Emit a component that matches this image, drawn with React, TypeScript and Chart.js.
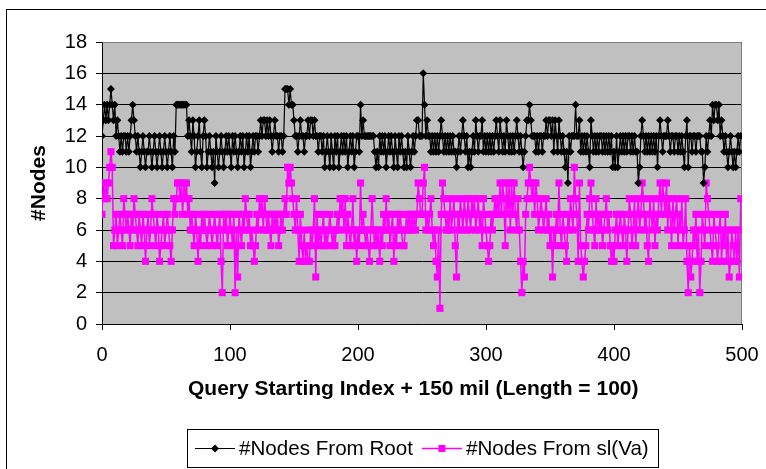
import React, { useEffect, useRef } from "react";
import { Chart, registerables } from "chart.js";

Chart.register(...registerables);

const FONT = "'Liberation Sans', Arial, sans-serif";

const seriesNames = ["#Nodes From Root", "#Nodes From sl(Va)"];
const xTitle = "Query Starting Index + 150 mil (Length = 100)";
const yTitle = "#Nodes";
const xTickStep = 100;
const xMax = 500;
const yTickStep = 2;
const yMax = 18;

// #Nodes From Root, query index 0..499
const rootNodes = [
  12,13,14,13,14,13,14,15,14,13, 14,12,13,12,11,12,11,12,12,11, 12,11,12,13,14,13,12,11,12,11, 10,11,12,11,10,11,11,12,11,10, 11,12,11,10,11,12,11,10,11,12,
  11,10,11,12,11,10,12,11,14,14, 14,14,14,14,14,14,14,12,13,12, 11,13,12,10,11,12,13,11,10,12, 13,12,10,11,12,11,10,11,9,12, 11,10,11,12,11,10,11,12,11,12,
  11,10,12,11,12,11,10,11,12,11, 12,10,11,12,11,12,10,11,12,11, 12,12,11,12,13,12,13,13,12,13, 12,13,12,11,12,13,12,12,11,12, 12,11,12,15,15,15,14,15,14,14,
  13,12,12,11,12,13,12,12,11,12, 12,13,12,13,13,12,13,12,12,11, 12,12,11,12,10,11,12,11,10,12, 11,10,12,11,12,10,11,12,11,12, 11,12,10,11,12,11,12,10,11,12,
  12,11,14,12,13,12,12,12,12,12, 12,12,12,11,10,11,10,12,11,12, 11,12,10,11,12,11,12,11,10,12, 11,10,12,11,12,11,10,11,10,12, 11,10,11,12,11,12,13,13,12,12,
  12,16,14,12,13,12,12,11,12,11, 12,11,12,11,12,13,12,11,12,11, 12,11,12,11,12,11,11,10,11,12, 11,12,13,12,11,12,10,11,10,11, 12,11,13,12,11,12,12,13,11,12,
  11,12,11,12,11,12,11,12,13,12, 11,13,12,11,12,11,13,12,11,12, 11,12,11,12,13,12,11,12,11,10, 11,12,13,13,14,13,12,12,12,11, 12,11,12,12,11,12,12,13,12,13,
  13,12,13,11,13,12,11,13,12,11, 12,11,10,11,9,12,11,12,12,12, 14,12,12,13,11,12,11,12,11,12, 11,10,13,12,11,12,11,12,11,12, 12,11,12,11,12,11,12,11,12,10,
  11,10,12,10,11,12,11,12,11,12, 11,12,12,11,12,11,12,11,11,9, 10,12,13,12,11,12,11,12,11,12, 11,12,11,12,10,12,13,12,11,12, 12,12,13,12,11,12,12,11,12,12,
  11,12,11,12,11,10,12,13,10,12, 12,11,12,12,11,12,12,12,11,11, 9,10,12,11,12,13,12,14,13,14, 14,13,14,12,13,12,11,12,11,10, 11,12,11,10,11,10,11,12,11,12,
];

// #Nodes From sl(Va), query index 0..499
const slNodes = [
  7,9,8,9,8,9,10,11,10,5, 6,7,5,6,7,6,5,8,7,6, 7,6,5,7,6,8,7,6,5,7, 6,5,7,6,4,6,7,5,6,8, 7,6,5,7,6,4,5,6,7,5,
  6,7,6,5,4,6,8,7,8,9, 9,8,9,7,9,8,9,7,8,6, 7,6,5,7,6,4,6,5,7,6, 7,6,5,6,7,6,5,6,7,6, 5,6,7,4,2,7,6,7,5,6,
  7,6,5,7,2,6,3,7,6,5, 7,6,8,7,6,7,5,6,5,4, 5,7,6,8,7,8,6,8,7,6, 7,6,5,7,6,7,6,7,5,6, 7,6,7,8,7,10,9,10,9,8,
  7,6,8,6,4,7,5,4,6,4, 5,4,4,6,5,6,8,3,7,5, 6,5,6,7,5,6,5,6,7,6, 5,6,5,6,7,6,8,7,8,6, 8,5,7,6,5,6,8,5,6,4,
  6,5,9,6,7,6,5,6,5,4, 6,8,6,5,6,5,6,4,6,5, 7,6,8,6,7,5,6,7,4,6, 5,7,6,7,6,5,5,6,7,6, 7,6,7,6,7,6,7,9,8,7,
  7,9,10,6,7,6,7,8,6,5, 6,4,3,6,1,7,9,8,7,6, 7,6,8,6,7,8,5,3,7,6, 8,7,6,8,7,6,8,7,6,8, 7,8,6,7,8,6,7,5,8,7,
  6,5,4,5,7,6,7,8,7,8, 7,9,7,9,8,5,9,7,9,6, 9,7,9,7,6,8,6,4,2,4, 3,7,8,9,10,9,8,9,7,9, 8,6,7,8,7,6,7,8,6,7,
  5,6,3,6,5,7,6,9,6,5, 7,6,5,4,7,6,8,7,6,10, 8,7,4,9,5,4,3,4,5,7, 6,8,9,7,6,5,8,6,7,6, 7,5,6,7,8,6,7,5,4,5,
  4,6,7,5,6,7,6,5,7,6, 4,6,8,7,5,6,8,5,7,8, 6,7,9,8,6,7,5,4,8,7, 6,8,5,7,6,8,9,7,9,8, 7,9,6,8,7,5,8,6,7,8,
  5,7,6,8,5,6,8,4,2,5, 3,4,6,5,7,4,6,2,4,7, 6,5,9,8,7,6,5,4,7,6, 5,4,6,7,4,6,5,7,4,6, 3,4,6,5,4,6,4,6,3,8,
];

const seriesColors = ["#000000", "#ff00ff"];

export default function App() {
  const ref = useRef<HTMLCanvasElement>(null);

  useEffect(() => {
    document.body.style.margin = "0";
    const canvas = ref.current;
    if (!canvas) return;

    const excelPlugin = {
      id: "excelLook",
      beforeDraw(chart: any) {
        const { ctx, chartArea: a } = chart;
        ctx.save();
        ctx.fillStyle = "#ffffff";
        ctx.fillRect(0, 0, chart.width, chart.height);
        ctx.strokeStyle = "#000000";
        ctx.lineWidth = 1;
        ctx.strokeRect(6.5, 9.5, chart.width + 40, chart.height + 40);
        ctx.fillStyle = "#c0c0c0";
        ctx.fillRect(a.left, a.top, a.right - a.left, a.bottom - a.top);
        ctx.restore();
      },
      beforeDatasetsDraw(chart: any) {
        const { ctx, chartArea: a } = chart;
        ctx.save();
        ctx.strokeStyle = "#808080";
        ctx.lineWidth = 1;
        ctx.beginPath();
        ctx.moveTo(Math.round(a.left) + 0.5, Math.round(a.top) + 0.5);
        ctx.lineTo(Math.round(a.right) - 0.5, Math.round(a.top) + 0.5);
        ctx.lineTo(Math.round(a.right) - 0.5, Math.round(a.bottom));
        ctx.stroke();
        ctx.restore();
      },
      afterDraw(chart: any) {
        const { ctx } = chart;
        ctx.save();
        ctx.font = `20.6px ${FONT}`;
        const w1 = ctx.measureText(seriesNames[0]).width;
        const w2 = ctx.measureText(seriesNames[1]).width;
        const padL = 8, sample = 40, gap = 4, itemGap = 9, padR = 9;
        const total = padL + sample + gap + w1 + itemGap + sample + gap + w2 + padR;
        const cx = 422;
        const left = Math.round(cx - total / 2);
        const top = 429;
        const h = 38;
        const cy = top + h / 2;
        ctx.fillStyle = "#ffffff";
        ctx.fillRect(left, top, total, h);
        ctx.strokeStyle = "#000000";
        ctx.lineWidth = 1;
        ctx.strokeRect(left + 0.5, top + 0.5, Math.round(total), h);

        let x = left + padL;
        // item 1
        ctx.strokeStyle = seriesColors[0];
        ctx.lineWidth = 1.2;
        ctx.beginPath();
        ctx.moveTo(x, cy + 0.5);
        ctx.lineTo(x + sample, cy + 0.5);
        ctx.stroke();
        ctx.fillStyle = seriesColors[0];
        const mx = x + sample / 2;
        ctx.beginPath();
        ctx.moveTo(mx - 4, cy + 0.5);
        ctx.lineTo(mx, cy - 3.5);
        ctx.lineTo(mx + 4, cy + 0.5);
        ctx.lineTo(mx, cy + 4.5);
        ctx.closePath();
        ctx.fill();
        x += sample + gap;
        ctx.fillStyle = "#000000";
        ctx.textBaseline = "middle";
        ctx.textAlign = "left";
        ctx.fillText(seriesNames[0], x, cy + 1);
        x += w1 + itemGap;
        // item 2
        ctx.strokeStyle = seriesColors[1];
        ctx.lineWidth = 1.5;
        ctx.beginPath();
        ctx.moveTo(x, cy + 0.5);
        ctx.lineTo(x + sample, cy + 0.5);
        ctx.stroke();
        ctx.fillStyle = seriesColors[1];
        const mx2 = x + sample / 2;
        ctx.fillRect(mx2 - 3.5, cy - 3, 7, 7);
        x += sample + gap;
        ctx.fillStyle = "#000000";
        ctx.fillText(seriesNames[1], x, cy + 1);
        ctx.restore();
      },
    };

    const chart = new Chart(canvas, {
      type: "line",
      data: {
        datasets: [
          {
            label: seriesNames[0],
            data: rootNodes.map((v, i) => ({ x: i, y: v })),
            borderColor: seriesColors[0],
            backgroundColor: seriesColors[0],
            borderWidth: 1.2,
            pointStyle: "rectRot",
            pointRadius: 4,
            pointBorderWidth: 0,
            pointHoverRadius: 4,
            tension: 0,
            fill: false,
          },
          {
            label: seriesNames[1],
            data: slNodes.map((v, i) => ({ x: i, y: v })),
            borderColor: seriesColors[1],
            backgroundColor: seriesColors[1],
            borderWidth: 1.5,
            pointStyle: "rect",
            pointRadius: 5,
            pointBorderWidth: 0,
            pointHoverRadius: 5,
            tension: 0,
            fill: false,
          },
        ],
      },
      options: {
        animation: false,
        responsive: false,
        devicePixelRatio: 1,
        events: [],
        layout: { padding: { left: 20, top: 42, right: 24, bottom: 65 } },
        plugins: {
          legend: { display: false },
          tooltip: { enabled: false },
        },
        scales: {
          x: {
            type: "linear",
            min: 0,
            max: xMax,
            ticks: {
              stepSize: xTickStep,
              color: "#000",
              font: { family: FONT, size: 20 },
              padding: 13,
              maxRotation: 0,
            },
            grid: {
              drawOnChartArea: false,
              drawTicks: true,
              tickLength: 6,
              color: "#000",
              tickColor: "#000",
            },
            border: { color: "#000", width: 1 },
            title: {
              display: true,
              text: xTitle + "   ",
              color: "#000",
              font: { family: FONT, size: 21, weight: "bold" },
              padding: { top: 0, bottom: 2 },
            },
            afterFit: (s: any) => {
              s.height = 80;
              s.paddingLeft = 0;
              s.paddingRight = 0;
            },
          },
          y: {
            min: 0,
            max: yMax,
            ticks: {
              stepSize: yTickStep,
              color: "#000",
              font: { family: FONT, size: 20 },
              padding: 9,
            },
            grid: {
              color: "#000",
              lineWidth: 1,
              tickLength: 6,
              tickColor: "#000",
            },
            border: { color: "#000", width: 1 },
            title: {
              display: true,
              text: yTitle,
              color: "#000",
              font: { family: FONT, size: 21, weight: "bold" },
              padding: { top: 7, bottom: 0 },
            },
            afterFit: (s: any) => {
              s.width = 82;
            },
          },
        },
      },
      plugins: [excelPlugin],
    } as any);

    return () => chart.destroy();
  }, []);

  return (
    <div style={{ width: 766, height: 469, position: "relative" }}>
      <canvas ref={ref} width={766} height={469} style={{ display: "block" }} />
    </div>
  );
}
